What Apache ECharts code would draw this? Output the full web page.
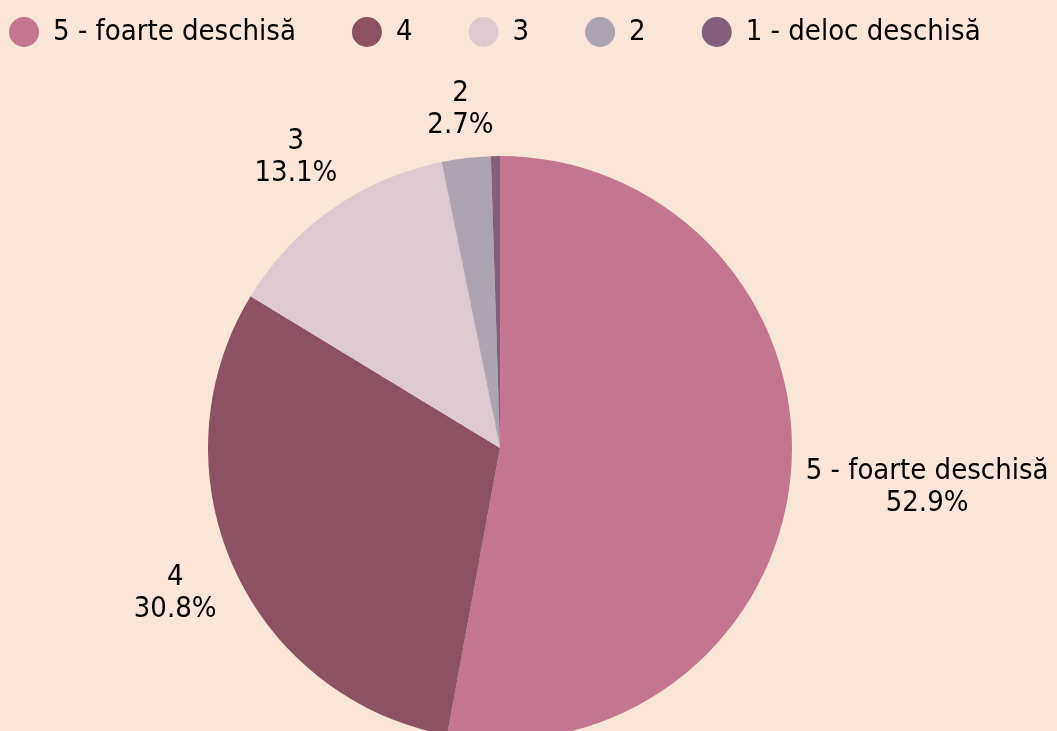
<!DOCTYPE html>
<html>
<head>
<meta charset="utf-8">
<script src="https://cdn.jsdelivr.net/npm/echarts@6/dist/echarts.min.js"></script>
<style>
  html, body { margin: 0; padding: 0; background: #fae6d8; }
  #main { width: 1057px; height: 731px; }
</style>
</head>
<body>
<div id="main"></div>
<script>
// date (procente)
const categories = ['5 - foarte deschisă', '4', '3', '2', '1 - deloc deschisă'];
const percents = [52.9, 30.8, 13.1, 2.7, 0.5];
const colors = ['#c4758f', '#8e5063', '#dccad0', '#ada4b2', '#825f7b'];

const FONT = '"DejaVu Sans Condensed", "DejaVu Sans", sans-serif';
const CX = 500, CY = 448, R = 292;

let myChart = echarts.init(document.getElementById('main'));

// unghiul de mijloc al felei (pornind de sus, in sensul acelor de ceasornic)
function midAngle(idx) {
  let total = percents.reduce((a, b) => a + b, 0);
  let before = 0;
  for (let i = 0; i < idx; i++) before += percents[i];
  return (before + percents[idx] / 2) / total * Math.PI * 2;
}

let option = {
  backgroundColor: '#fae6d8',
  color: colors,
  legend: {
    left: 9,
    top: 17,
    padding: 0,
    icon: 'circle',
    itemWidth: 30,
    itemHeight: 30,
    itemGap: 56,
    data: categories,
    textStyle: {
      color: '#000',
      fontFamily: FONT,
      fontSize: 29,
      padding: [0, 0, 0, 9]
    }
  },
  series: [
    {
      type: 'pie',
      center: [CX, CY],
      radius: R,
      startAngle: 90,
      clockwise: true,
      animation: false,
      label: {
        show: true,
        position: 'inside',
        color: '#000',
        fontFamily: FONT,
        fontSize: 29,
        lineHeight: 32,
        textBorderWidth: 0,
        formatter: (p) => p.name + '\n' + p.value.toFixed(1) + '%'
      },
      labelLine: { show: false },
      labelLayout: (params) => {
        let a = midAngle(params.dataIndex);
        let dx = Math.sin(a), dy = -Math.cos(a);
        let hw = params.labelRect.width / 2, hh = params.labelRect.height / 2;
        let d = R + 13 + hw * Math.abs(dx) + hh * Math.abs(dy);
        return { x: CX + dx * d, y: CY + dy * d, align: 'center', verticalAlign: 'middle' };
      },
      emphasis: { disabled: true },
      data: categories.map((name, i) => ({
        name: name,
        value: percents[i],
        label: { show: percents[i] >= 1 }
      }))
    }
  ]
};

myChart.setOption(option);
</script>
</body>
</html>
